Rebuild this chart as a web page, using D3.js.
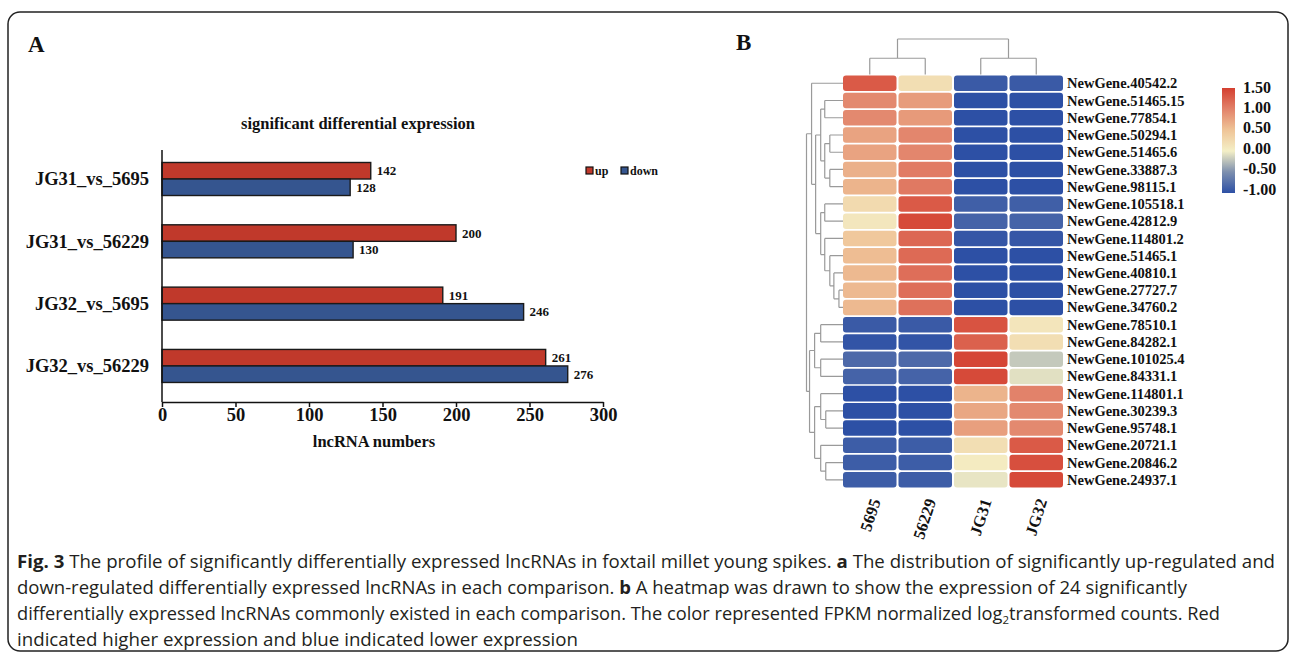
<!DOCTYPE html>
<html>
<head>
<meta charset="utf-8">
<script src="https://cdn.jsdelivr.net/npm/d3@7"></script>
<style>
body { margin: 0; background: #fff; }
svg text { font-family: "Liberation Serif", "Times New Roman", serif; font-weight: bold; fill: #111; }
svg text.caption { font-family: "Open Sans", sans-serif; font-weight: normal; fill: #231f20; }
</style>
</head>
<body>
<svg id="chart" width="1295" height="655"></svg>
<script>
// ---- panel A data
var comparisons = ["JG31_vs_5695", "JG31_vs_56229", "JG32_vs_5695", "JG32_vs_56229"];
var upCounts = [142, 200, 191, 261];
var downCounts = [128, 130, 246, 276];
var xTicks = [0, 50, 100, 150, 200, 250, 300];

// ---- panel B data
var samples = ["5695", "56229", "JG31", "JG32"];
var genes = ["NewGene.40542.2", "NewGene.51465.15", "NewGene.77854.1", "NewGene.50294.1",
	"NewGene.51465.6", "NewGene.33887.3", "NewGene.98115.1", "NewGene.105518.1",
	"NewGene.42812.9", "NewGene.114801.2", "NewGene.51465.1", "NewGene.40810.1",
	"NewGene.27727.7", "NewGene.34760.2", "NewGene.78510.1", "NewGene.84282.1",
	"NewGene.101025.4", "NewGene.84331.1", "NewGene.114801.1", "NewGene.30239.3",
	"NewGene.95748.1", "NewGene.20721.1", "NewGene.20846.2", "NewGene.24937.1"];
var expr5695  = [1.3, 0.95, 0.95, 0.75, 0.75, 0.65, 0.62, 0.25, 0.1, 0.45, 0.55, 0.58, 0.58, 0.58,
	-0.92, -0.97, -0.8, -0.85, -1, -1, -1, -0.9, -0.9, -0.9];
var expr56229 = [0.2, 0.8, 0.82, 0.97, 0.97, 1.05, 1.07, 1.3, 1.42, 1.2, 1.18, 1.15, 1.15, 1.13,
	-0.92, -0.97, -0.8, -0.85, -1, -1, -1, -0.9, -0.9, -0.9];
var exprJG31  = [-0.92, -1, -1, -1, -1, -1, -1, -0.88, -0.85, -0.95, -1, -1, -1, -1,
	1.35, 1.25, 1.45, 1.42, 0.62, 0.72, 0.78, 0.2, 0.05, -0.05];
var exprJG32  = [-0.92, -1, -1, -1, -1, -1, -1, -0.88, -0.85, -0.95, -1, -1, -1, -1,
	0.12, 0.2, -0.2, -0.08, 1.0, 0.95, 0.95, 1.3, 1.38, 1.42];
var legendTicks = [1.5, 1, 0.5, 0, -0.5, -1];

// clustering trees (leaf = row / column index, h = merge height)
var rowTree = {h: 3.6, c: [
	{h: 3.1, c: [0, {h: 2.7, c: [
		{h: 2.2, c: [{h: 1.8, c: [1, 2]}, {h: 1.8, c: [{h: 1.3, c: [3, 4]}, {h: 1.3, c: [5, 6]}]}]},
		{h: 2.2, c: [{h: 1.8, c: [7, 8]}, {h: 1.8, c: [9, {h: 1.3, c: [10, {h: 0.9, c: [11, {h: 0.4, c: [12, 13]}]}]}]}]}
	]}]},
	{h: 3.3, c: [
		{h: 2.8, c: [{h: 2.2, c: [14, 15]}, {h: 2.2, c: [16, 17]}]},
		{h: 2.8, c: [{h: 2.2, c: [18, {h: 1.7, c: [19, 20]}]}, {h: 2.2, c: [21, {h: 1.7, c: [22, 23]}]}]}
	]}
]};
var colTree = {h: 3.5, c: [{h: 1.6, c: [0, 1]}, {h: 1.6, c: [2, 3]}]};

var captionLines = [
	[["Fig. 3", true], [" The profile of significantly differentially expressed lncRNAs in foxtail millet young spikes. ", false], ["a", true], [" The distribution of significantly up-regulated and", false]],
	[["down-regulated differentially expressed lncRNAs in each comparison. ", false], ["b", true], [" A heatmap was drawn to show the expression of 24 significantly", false]],
	[["differentially expressed lncRNAs commonly existed in each comparison. The color represented FPKM normalized log", false], ["2", "sub"], ["transformed counts. Red", false]],
	[["indicated higher expression and blue indicated lower expression", false]]
];
var captionWidths = [1258, 1170, 1203, 561];

var svg = d3.select("#chart");

// frame
svg.append("rect")
	.attr("x", 8).attr("y", 12)
	.attr("width", 1280).attr("height", 639)
	.attr("rx", 12)
	.attr("fill", "none")
	.attr("stroke", "#222")
	.attr("stroke-width", 1.5);

// ================= panel A =================
svg.append("text").attr("x", 28).attr("y", 52).style("font-size", "23px").text("A");

var x = d3.scaleLinear().domain([0, 300]).range([162, 603]);
var y = d3.scaleBand().domain(comparisons).range([150, 402])
	.paddingInner(0.47).paddingOuter(0.257).align(0.39);
var sub = d3.scaleBand().domain(["up", "down"]).range([0, y.bandwidth()]);
var barColor = {up: "#c0392b", down: "#35558f"};

svg.append("text")
	.attr("x", 358).attr("y", 129)
	.attr("text-anchor", "middle")
	.style("font-size", "16.5px")
	.text("significant differential expression");

var barData = comparisons.map(function(c, i) {
	return {cmp: c, vals: [{k: "up", v: upCounts[i]}, {k: "down", v: downCounts[i]}]};
});

var groups = svg.selectAll("g.grp")
	.data(barData)
	.enter()
	.append("g")
	.attr("class", "grp")
	.attr("transform", d => "translate(0," + y(d.cmp) + ")");

groups.selectAll("rect")
	.data(d => d.vals)
	.enter()
	.append("rect")
	.attr("x", x(0))
	.attr("y", d => sub(d.k))
	.attr("width", d => x(d.v) - x(0))
	.attr("height", sub.bandwidth())
	.attr("fill", d => barColor[d.k])
	.attr("stroke", "#1a1a1a")
	.attr("stroke-width", 1.4);

groups.selectAll("text.val")
	.data(d => d.vals)
	.enter()
	.append("text")
	.attr("class", "val")
	.attr("x", d => x(d.v) + 6)
	.attr("y", d => sub(d.k) + sub.bandwidth() / 2)
	.attr("dy", "0.35em")
	.style("font-size", "13px")
	.text(d => d.v);

// category labels
svg.selectAll("text.cat")
	.data(comparisons)
	.enter()
	.append("text")
	.attr("class", "cat")
	.attr("x", 149)
	.attr("y", d => y(d) + y.bandwidth() / 2)
	.attr("dy", "0.35em")
	.attr("text-anchor", "end")
	.style("font-size", "18.5px")
	.text(d => d);

// y axis line
svg.append("line")
	.attr("x1", x(0)).attr("x2", x(0))
	.attr("y1", 150).attr("y2", 402)
	.attr("stroke", "#111").attr("stroke-width", 1.5);

// x axis
var xAxis = svg.append("g")
	.attr("transform", "translate(0,402)")
	.call(d3.axisBottom(x).tickValues(xTicks).tickSize(5).tickSizeOuter(0).tickPadding(1));
xAxis.select(".domain").attr("stroke", "#111").attr("stroke-width", 1.5);
xAxis.selectAll(".tick line").attr("stroke", "#111").attr("stroke-width", 1.5);
xAxis.selectAll(".tick text")
	.style("font-family", "'Liberation Serif', serif")
	.style("font-weight", "bold")
	.style("font-size", "18.5px")
	.attr("fill", "#111");

svg.append("text")
	.attr("x", 374).attr("y", 447)
	.attr("text-anchor", "middle")
	.style("font-size", "16.5px")
	.text("lncRNA numbers");

// legend
var legA = svg.selectAll("g.legA")
	.data(["up", "down"])
	.enter()
	.append("g")
	.attr("class", "legA")
	.attr("transform", (d, i) => "translate(" + (586 + i * 35) + ",167)");
legA.append("rect")
	.attr("width", 7).attr("height", 7)
	.attr("fill", d => barColor[d])
	.attr("stroke", "#111").attr("stroke-width", 1.2);
legA.append("text")
	.attr("x", 9).attr("y", 7.5)
	.style("font-size", "12px")
	.text(d => d);

// ================= panel B =================
svg.append("text").attr("x", 736).attr("y", 50).style("font-size", "23px").text("B");

var colScale = d3.scaleBand().domain(samples).range([843, 1063]).paddingInner(0.036);
var rowScale = d3.scaleBand().domain(genes).range([75.5, 487.6]).paddingInner(0.1);
var heatColor = d3.scaleLinear()
	.domain([-1, -0.5, 0, 0.5, 1, 1.5])
	.range(["#2d50a5", "#7d8fae", "#f4efc6", "#efc497", "#e2826a", "#d43f30"])
	.clamp(true);

var seriesBySample = [expr5695, expr56229, exprJG31, exprJG32];
var cells = [];
genes.forEach(function(g, i) {
	samples.forEach(function(s, j) {
		cells.push({gene: g, sample: s, v: seriesBySample[j][i]});
	});
});

svg.append("g").selectAll("rect")
	.data(cells)
	.enter()
	.append("rect")
	.attr("x", d => colScale(d.sample))
	.attr("y", d => rowScale(d.gene))
	.attr("width", colScale.bandwidth())
	.attr("height", rowScale.bandwidth())
	.attr("rx", 3)
	.attr("fill", d => heatColor(d.v));

svg.append("g").selectAll("text")
	.data(genes)
	.enter()
	.append("text")
	.attr("x", 1067)
	.attr("y", d => rowScale(d) + rowScale.bandwidth() / 2)
	.attr("dy", "0.35em")
	.style("font-size", "14.5px")
	.text(d => d);

// column labels
svg.append("g").selectAll("text")
	.data(samples)
	.enter()
	.append("text")
	.attr("transform", d => "translate(" + (colScale(d) + colScale.bandwidth() / 2 + 11) + ",501) rotate(-72)")
	.attr("text-anchor", "end")
	.style("font-size", "16.5px")
	.text(d => d);

// dendrograms
function drawTree(node, leafPos, hPos, horizontal, parts) {
	if (typeof node === "number") return {p: leafPos(node), h: 0};
	var kids = node.c.map(k => drawTree(k, leafPos, hPos, horizontal, parts));
	var p = d3.mean(kids, k => k.p);
	var hp = hPos(node.h);
	kids.forEach(function(k) {
		parts.push(horizontal
			? "M" + hp + "," + k.p + "H" + hPos(k.h)
			: "M" + k.p + "," + hp + "V" + hPos(k.h));
	});
	parts.push(horizontal
		? "M" + hp + "," + kids[0].p + "V" + kids[kids.length - 1].p
		: "M" + kids[0].p + "," + hp + "H" + kids[kids.length - 1].p);
	return {p: p, h: node.h};
}

var rowParts = [];
var rowH = d3.scaleLinear().domain([0, 3.6]).range([843, 806.5]);
drawTree(rowTree, i => rowScale(genes[i]) + rowScale.bandwidth() / 2, rowH, true, rowParts);
svg.append("path").attr("d", rowParts.join("")).attr("fill", "none")
	.attr("stroke", "#9a9a9a").attr("stroke-width", 1.2);

var colParts = [];
var colH = d3.scaleLinear().domain([0, 3.5]).range([74.5, 39]);
drawTree(colTree, i => colScale(samples[i]) + colScale.bandwidth() / 2, colH, false, colParts);
svg.append("path").attr("d", colParts.join("")).attr("fill", "none")
	.attr("stroke", "#9a9a9a").attr("stroke-width", 1.2);

// colour legend
var legendY = d3.scaleLinear().domain([1.5, -1]).range([87, 189]);
var grad = svg.append("defs").append("linearGradient")
	.attr("id", "heatGrad")
	.attr("x1", 0).attr("y1", 0).attr("x2", 0).attr("y2", 1);
heatColor.domain().slice().reverse().forEach(function(v) {
	grad.append("stop")
		.attr("offset", (1.5 - v) / 2.5)
		.attr("stop-color", heatColor(v));
});
svg.append("rect")
	.attr("x", 1222).attr("y", legendY(1.5) + 1)
	.attr("width", 13)
	.attr("height", legendY(-1) - legendY(1.5) + 3)
	.attr("fill", "url(#heatGrad)");
svg.append("g").selectAll("text")
	.data(legendTicks)
	.enter()
	.append("text")
	.attr("x", 1243)
	.attr("y", d => legendY(d))
	.attr("dy", "0.35em")
	.style("font-size", "16px")
	.text(d => d.toFixed(2));

// ================= caption =================
captionLines.forEach(function(line, i) {
	var t = svg.append("text")
		.attr("class", "caption")
		.attr("x", 17)
		.attr("y", 568 + i * 26)
		.attr("textLength", captionWidths[i])
		.attr("lengthAdjust", "spacingAndGlyphs")
		.style("font-size", "17.5px");
	line.forEach(function(seg) {
		var ts = t.append("tspan").text(seg[0]);
		if (seg[1] === true) ts.style("font-weight", "bold");
		if (seg[1] === "sub") ts.attr("dy", 4).style("font-size", "11px");
		else if (seg[0].indexOf("transformed") === 0) ts.attr("dy", -4);
	});
});
</script>
</body>
</html>
